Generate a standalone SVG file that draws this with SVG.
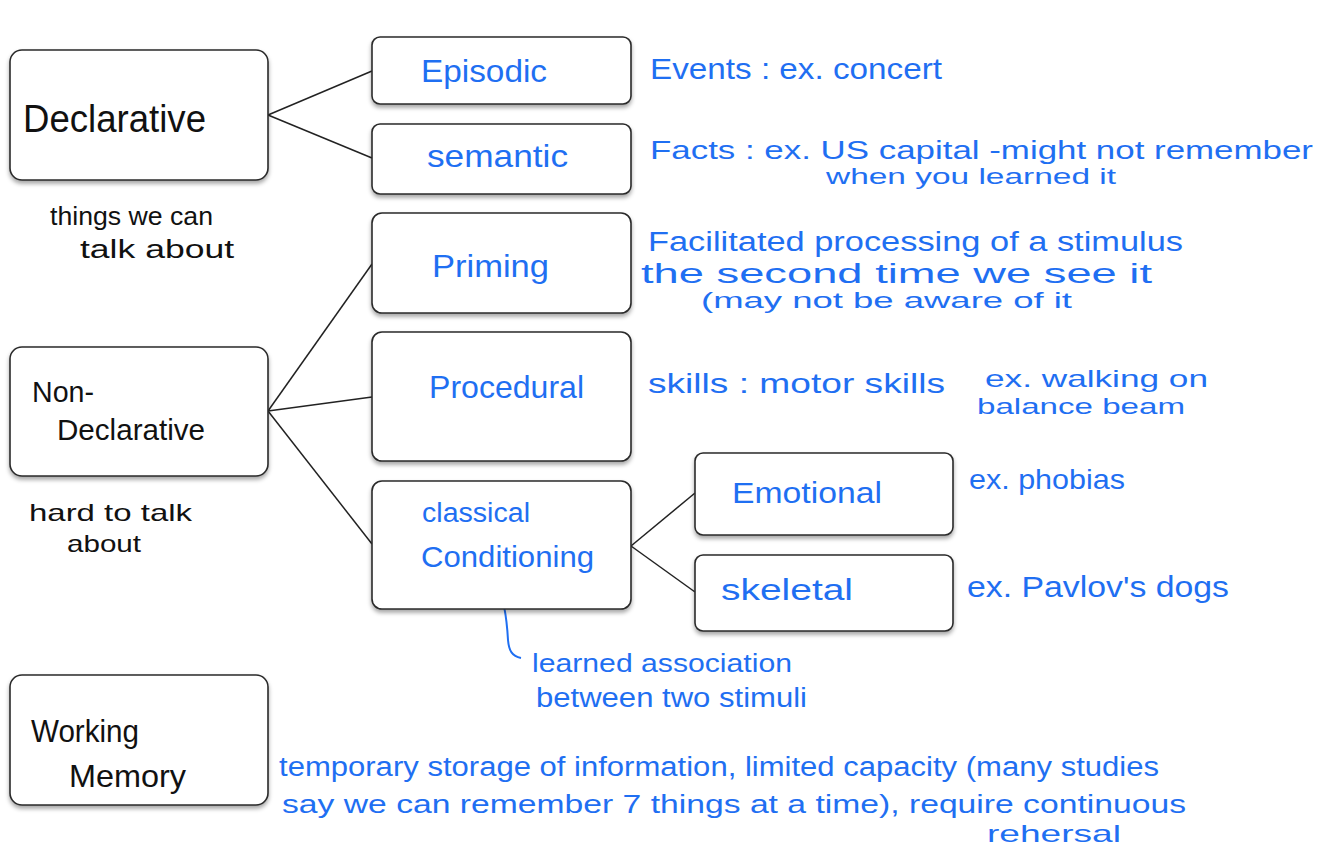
<svg xmlns="http://www.w3.org/2000/svg" width="1334" height="849" viewBox="0 0 1334 849">
<style>
.box{fill:#fff;stroke:#2a2a2a;stroke-width:1.6;filter:url(#sh)}
.lbl{font-family:"Liberation Sans",Arial,sans-serif;fill:#111}
.blue{font-family:"Liberation Sans",Arial,sans-serif;fill:#1f6ff2}
.conn line{stroke:#222;stroke-width:1.5}
</style>
<defs>
<filter id="sh" x="-10%" y="-10%" width="120%" height="130%">
<feDropShadow dx="0" dy="3" stdDeviation="2" flood-color="#000" flood-opacity="0.35"/>
</filter>
</defs>
<rect width="1334" height="849" fill="#fff"/>
<g class="conn" id="connectors">
<line x1="268" y1="115" x2="372" y2="71"/>
<line x1="268" y1="115" x2="372" y2="158"/>
<line x1="268" y1="411" x2="372" y2="264"/>
<line x1="268" y1="411" x2="372" y2="397"/>
<line x1="268" y1="411" x2="372" y2="544"/>
<line x1="631" y1="546" x2="695" y2="493"/>
<line x1="631" y1="546" x2="695" y2="592"/>
<path d="M497,586 C505,600 507,622 508,640 C509,651 512,656 521,658" fill="none" stroke="#1f6ff2" stroke-width="2"/>
</g>
<g id="declarative">
<rect class="box" x="10" y="50" width="258" height="130" rx="12"/>
<text class="lbl" x="23" y="132" font-size="38" textLength="183" lengthAdjust="spacingAndGlyphs">Declarative</text>
<text class="lbl" x="50" y="225" font-size="26" textLength="163" lengthAdjust="spacingAndGlyphs">things we can</text>
<text class="lbl" x="80" y="258" font-size="26" textLength="154" lengthAdjust="spacingAndGlyphs">talk about</text>
</g>
<g id="episodic">
<rect class="box" x="372" y="37" width="259" height="67" rx="8"/>
<text class="blue" x="421" y="82" font-size="32" textLength="126" lengthAdjust="spacingAndGlyphs">Episodic</text>
<text class="blue" x="650" y="79" font-size="30" textLength="292" lengthAdjust="spacingAndGlyphs">Events : ex. concert</text>
</g>
<g id="semantic">
<rect class="box" x="372" y="124" width="259" height="70" rx="8"/>
<text class="blue" x="427" y="167" font-size="32" textLength="141" lengthAdjust="spacingAndGlyphs">semantic</text>
<text class="blue" x="650" y="159" font-size="26" textLength="663" lengthAdjust="spacingAndGlyphs">Facts :  ex. US capital -might not remember</text>
<text class="blue" x="826" y="184" font-size="22" textLength="290" lengthAdjust="spacingAndGlyphs">when you learned it</text>
</g>
<g id="priming">
<rect class="box" x="372" y="213" width="259" height="100" rx="10"/>
<text class="blue" x="432" y="277" font-size="32" textLength="117" lengthAdjust="spacingAndGlyphs">Priming</text>
<text class="blue" x="648" y="251" font-size="27" textLength="535" lengthAdjust="spacingAndGlyphs">Facilitated processing of a stimulus</text>
<text class="blue" x="641" y="283" font-size="27" textLength="511" lengthAdjust="spacingAndGlyphs">the second time  we see it</text>
<text class="blue" x="701" y="308" font-size="22" textLength="371" lengthAdjust="spacingAndGlyphs">(may not be aware of it</text>
</g>
<g id="non-declarative">
<rect class="box" x="10" y="347" width="258" height="129" rx="12"/>
<text class="lbl" x="32" y="402" font-size="30" textLength="62" lengthAdjust="spacingAndGlyphs">Non-</text>
<text class="lbl" x="57" y="440" font-size="30" textLength="148" lengthAdjust="spacingAndGlyphs">Declarative</text>
<text class="lbl" x="29" y="521" font-size="24" textLength="163" lengthAdjust="spacingAndGlyphs">hard to talk</text>
<text class="lbl" x="67" y="552" font-size="24" textLength="74" lengthAdjust="spacingAndGlyphs">about</text>
</g>
<g id="procedural">
<rect class="box" x="372" y="332" width="259" height="129" rx="10"/>
<text class="blue" x="429" y="398" font-size="32" textLength="155" lengthAdjust="spacingAndGlyphs">Procedural</text>
<text class="blue" x="648" y="393" font-size="28" textLength="297" lengthAdjust="spacingAndGlyphs">skills : motor skills</text>
<text class="blue" x="985" y="387" font-size="24" textLength="223" lengthAdjust="spacingAndGlyphs">ex. walking on</text>
<text class="blue" x="977" y="414" font-size="22" textLength="208" lengthAdjust="spacingAndGlyphs">balance beam</text>
</g>
<g id="classical-conditioning">
<rect class="box" x="372" y="481" width="259" height="128" rx="10"/>
<text class="blue" x="422" y="522" font-size="27" textLength="108" lengthAdjust="spacingAndGlyphs">classical</text>
<text class="blue" x="421" y="567" font-size="30" textLength="173" lengthAdjust="spacingAndGlyphs">Conditioning</text>
<text class="blue" x="532" y="672" font-size="25" textLength="260" lengthAdjust="spacingAndGlyphs">learned association</text>
<text class="blue" x="536" y="707" font-size="27" textLength="271" lengthAdjust="spacingAndGlyphs">between two stimuli</text>
</g>
<g id="emotional">
<rect class="box" x="695" y="453" width="258" height="82" rx="8"/>
<text class="blue" x="732" y="503" font-size="30" textLength="150" lengthAdjust="spacingAndGlyphs">Emotional</text>
<text class="blue" x="969" y="489" font-size="28" textLength="156" lengthAdjust="spacingAndGlyphs">ex. phobias</text>
</g>
<g id="skeletal">
<rect class="box" x="695" y="555" width="258" height="76" rx="8"/>
<text class="blue" x="721" y="600" font-size="30" textLength="132" lengthAdjust="spacingAndGlyphs">skeletal</text>
<text class="blue" x="967" y="597" font-size="29" textLength="262" lengthAdjust="spacingAndGlyphs">ex. Pavlov's dogs</text>
</g>
<g id="working-memory">
<rect class="box" x="10" y="675" width="258" height="130" rx="12"/>
<text class="lbl" x="31" y="742" font-size="32" textLength="108" lengthAdjust="spacingAndGlyphs">Working</text>
<text class="lbl" x="69" y="787" font-size="32" textLength="117" lengthAdjust="spacingAndGlyphs">Memory</text>
<text class="blue" x="279" y="776" font-size="27" textLength="880" lengthAdjust="spacingAndGlyphs">temporary  storage of information, limited capacity (many studies</text>
<text class="blue" x="282" y="813" font-size="25" textLength="904" lengthAdjust="spacingAndGlyphs">say we can remember 7  things at a time), require  continuous</text>
<text class="blue" x="987" y="842" font-size="24" textLength="134" lengthAdjust="spacingAndGlyphs">rehersal</text>
</g>
</svg>
